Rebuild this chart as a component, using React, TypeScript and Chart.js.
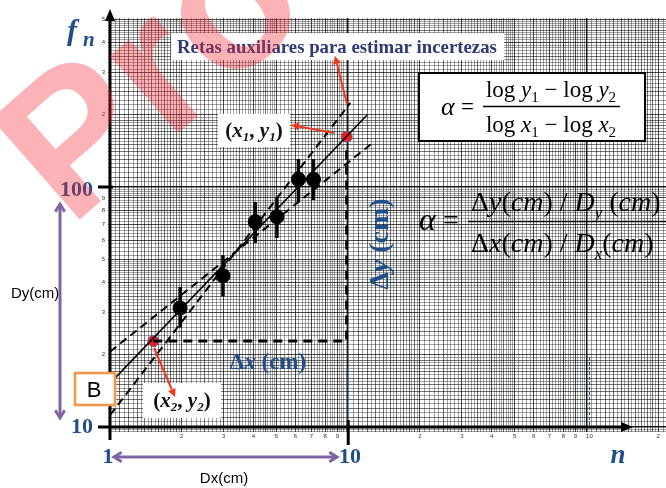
import React, { useEffect, useRef } from 'react';
import { Chart, registerables } from 'chart.js';

Chart.register(...registerables);

const SERIF = '"Liberation Serif", "Times New Roman", serif';
const SANS = '"Liberation Sans", Arial, sans-serif';
const BLUE = '#1f4e8a';
const RED = '#f2371c';
const PURPLE = '#8064a2';

// measured data (n, f_n) with error bar limits
const nValues = [1.97, 2.98, 4.07, 5.02, 6.18, 7.15];
const fValues = [31.3, 42.7, 71.6, 75.2, 107.6, 107.6];
const fLow = [26, 35, 58.5, 61.3, 86.6, 88.2];
const fHigh = [38.3, 52, 86.6, 90.9, 130.8, 130.8];

// reference points (x1,y1), (x2,y2)
const refX = [9.85, 1.52];
const refY = [162, 22.8];

// fitted line and auxiliary lines
const fitX = [1, 12.0];
const fitY = [15.2, 199.5];
const steepX = [1, 10.2];
const steepY = [11.2, 224];
const shallowX = [1, 12.6];
const shallowY = [20.6, 152];

// Δx / Δy construction path
const deltaX = [1.52, 9.85, 9.85];
const deltaY = [22.8, 22.8, 142];

// graph-paper axis digits
const axisDigits = [2, 3, 4, 5, 6, 7, 8, 9];
const xDecades = [1, 10, 100];
const yDecades = [10, 100];

const X_MIN = 0.981;
const X_MAX = 216.8;
const Y_MIN = 9.532;
const Y_MAX = 506;

function gridValues(min: number, max: number) {
  const out: number[] = [];
  for (let e = -1; e <= 3; e++) {
    const base = Math.pow(10, e);
    const push = (m: number) => {
      const v = +(m * base).toPrecision(6);
      if (v >= min && v <= max) out.push(v);
    };
    for (let i = 0; i < 20; i++) push(1 + i * 0.05);
    for (let i = 0; i < 30; i++) push(2 + i * 0.1);
    for (let i = 0; i < 25; i++) push(5 + i * 0.2);
  }
  return out;
}

function mantissa(v: number) {
  const e = Math.floor(Math.log10(v) + 1e-9);
  return v / Math.pow(10, e);
}
function gridColor(ctx: any) {
  const v = ctx.tick ? ctx.tick.value : 1;
  const m = mantissa(v);
  if (Math.abs(m - 1) < 1e-6) return 'rgba(0,0,0,0.9)';
  if (Math.abs(m - Math.round(m)) < 1e-6) return 'rgba(0,0,0,0.7)';
  if (m < 2 && Math.abs(m * 10 - Math.round(m * 10)) < 1e-6) return 'rgba(0,0,0,0.55)';
  if (m >= 2 && m < 5 && Math.abs(m * 2 - Math.round(m * 2)) < 1e-6) return 'rgba(0,0,0,0.55)';
  return 'rgba(0,0,0,0.36)';
}
function gridWidth(ctx: any) {
  const v = ctx.tick ? ctx.tick.value : 1;
  const m = mantissa(v);
  if (Math.abs(m - 1) < 1e-6) return 1.5;
  return 1;
}

type Seg = { t: string; f: string; dy?: number };
function drawRich(ctx: CanvasRenderingContext2D, segs: Seg[], x: number, y: number, align: 'left' | 'center') {
  let w = 0;
  for (const s of segs) {
    ctx.font = s.f;
    w += ctx.measureText(s.t).width;
  }
  let cx = align === 'center' ? x - w / 2 : x;
  ctx.textAlign = 'left';
  for (const s of segs) {
    ctx.font = s.f;
    ctx.fillText(s.t, cx, y + (s.dy || 0));
    cx += ctx.measureText(s.t).width;
  }
  return w;
}

function redArrow(ctx: CanvasRenderingContext2D, x0: number, y0: number, x1: number, y1: number) {
  const a = Math.atan2(y1 - y0, x1 - x0);
  const hl = 8;
  const hw = 4;
  const bx = x1 - hl * Math.cos(a);
  const by = y1 - hl * Math.sin(a);
  ctx.strokeStyle = RED;
  ctx.fillStyle = RED;
  ctx.lineWidth = 2;
  ctx.beginPath();
  ctx.moveTo(x0, y0);
  ctx.lineTo(bx, by);
  ctx.stroke();
  ctx.beginPath();
  ctx.moveTo(x1, y1);
  ctx.lineTo(bx + hw * Math.sin(a), by - hw * Math.cos(a));
  ctx.lineTo(bx - hw * Math.sin(a), by + hw * Math.cos(a));
  ctx.closePath();
  ctx.fill();
}

function openHead(ctx: CanvasRenderingContext2D, x: number, y: number, a: number) {
  const l = 9;
  ctx.beginPath();
  ctx.moveTo(x - l * Math.cos(a - 0.55), y - l * Math.sin(a - 0.55));
  ctx.lineTo(x, y);
  ctx.lineTo(x - l * Math.cos(a + 0.55), y - l * Math.sin(a + 0.55));
  ctx.stroke();
}

const errorBarPlugin = {
  id: 'errorBars',
  afterDatasetsDraw(chart: any) {
    const ctx: CanvasRenderingContext2D = chart.ctx;
    const xs = chart.scales.x;
    const ys = chart.scales.y;
    ctx.save();
    ctx.strokeStyle = '#000';
    ctx.lineWidth = 3.5;
    nValues.forEach((n, i) => {
      const px = xs.getPixelForValue(n);
      ctx.beginPath();
      ctx.moveTo(px, ys.getPixelForValue(fLow[i]));
      ctx.lineTo(px, ys.getPixelForValue(fHigh[i]));
      ctx.stroke();
    });
    ctx.restore();
  },
};

const overlayPlugin = {
  id: 'overlay',
  afterDraw(chart: any) {
    const ctx: CanvasRenderingContext2D = chart.ctx;
    const xs = chart.scales.x;
    const ys = chart.scales.y;
    const X = (v: number) => xs.getPixelForValue(v);
    const Y = (v: number) => ys.getPixelForValue(v);
    const ox = X(1);
    const oy = Y(10);
    ctx.save();

    // axes
    ctx.strokeStyle = '#000';
    ctx.fillStyle = '#000';
    ctx.lineWidth = 3;
    ctx.beginPath();
    ctx.moveTo(ox, oy + 13);
    ctx.lineTo(ox, 20);
    ctx.stroke();
    ctx.beginPath();
    ctx.moveTo(ox, 9);
    ctx.lineTo(ox - 5, 21);
    ctx.lineTo(ox + 5, 21);
    ctx.closePath();
    ctx.fill();
    ctx.beginPath();
    ctx.moveTo(ox - 12, oy);
    ctx.lineTo(623, oy);
    ctx.stroke();
    ctx.beginPath();
    ctx.moveTo(633, oy);
    ctx.lineTo(621, oy - 5);
    ctx.lineTo(621, oy + 5);
    ctx.closePath();
    ctx.fill();
    ctx.beginPath();
    ctx.moveTo(ox - 12, Y(100));
    ctx.lineTo(ox + 3, Y(100));
    ctx.stroke();
    ctx.beginPath();
    ctx.moveTo(X(10), oy - 7);
    ctx.lineTo(X(10), oy + 18);
    ctx.stroke();

    // thin blue guide lines
    ctx.strokeStyle = '#1f3f7f';
    ctx.lineWidth = 1;
    ctx.beginPath();
    ctx.moveTo(X(10) - 1, 368);
    ctx.lineTo(X(10) - 1, oy - 6);
    ctx.stroke();
    ctx.setLineDash([3, 2]);
    ctx.beginPath();
    ctx.moveTo(X(100) + 3, 357);
    ctx.lineTo(X(100) + 3, oy - 2);
    ctx.stroke();
    ctx.setLineDash([]);

    // tiny graph-paper digits
    ctx.fillStyle = '#333';
    ctx.font = `6px ${SANS}`;
    ctx.textBaseline = 'middle';
    ctx.textAlign = 'right';
    yDecades.forEach((b) => {
      axisDigits.forEach((d) => {
        const v = d * b;
        if (v <= Y_MAX) ctx.fillText(String(d), ox - 5, Y(v));
      });
    });
    ctx.textAlign = 'center';
    xDecades.forEach((b) => {
      axisDigits.forEach((d) => {
        const v = d * b;
        if (v <= X_MAX) ctx.fillText(String(d), X(v), oy + 9);
      });
    });
    ctx.fillText('10', X(100) + 3, oy + 9);

    // "Retas auxiliares" box
    ctx.fillStyle = '#fff';
    ctx.fillRect(171, 33, 333, 27);
    ctx.fillStyle = '#2f3a75';
    ctx.textBaseline = 'alphabetic';
    ctx.textAlign = 'left';
    ctx.font = `bold 18.8px ${SERIF}`;
    ctx.fillText('Retas auxiliares para estimar incertezas', 177, 53);

    // formula box 1
    ctx.fillStyle = '#fff';
    ctx.fillRect(419, 73, 226, 68);
    ctx.strokeStyle = '#000';
    ctx.lineWidth = 2;
    ctx.strokeRect(419, 73, 226, 68);
    ctx.fillStyle = '#000';
    const up23 = `23px ${SERIF}`;
    const it23 = `italic 23px ${SERIF}`;
    const sub = `15px ${SERIF}`;
    ctx.font = `italic 26px ${SERIF}`;
    ctx.fillText('α', 441, 115);
    ctx.font = up23;
    ctx.fillText('=', 461, 114);
    drawRich(ctx, [
      { t: 'log ', f: up23 }, { t: 'y', f: it23 }, { t: '1', f: sub, dy: 5 },
      { t: ' − log ', f: up23 }, { t: 'y', f: it23 }, { t: '2', f: sub, dy: 5 },
    ], 551, 97, 'center');
    ctx.lineWidth = 1.5;
    ctx.beginPath();
    ctx.moveTo(483, 106.5);
    ctx.lineTo(620, 106.5);
    ctx.stroke();
    drawRich(ctx, [
      { t: 'log ', f: up23 }, { t: 'x', f: it23 }, { t: '1', f: sub, dy: 5 },
      { t: ' − log ', f: up23 }, { t: 'x', f: it23 }, { t: '2', f: sub, dy: 5 },
    ], 551, 132, 'center');

    // formula 2
    const up28 = `28px ${SERIF}`;
    const it28 = `italic 28px ${SERIF}`;
    const sub28 = `italic 17px ${SERIF}`;
    ctx.font = `italic 32px ${SERIF}`;
    ctx.fillText('α', 419, 230);
    ctx.font = up28;
    ctx.fillText('=', 443, 229);
    drawRich(ctx, [
      { t: 'Δ', f: up28 }, { t: 'y', f: it28 }, { t: '(', f: up28 }, { t: 'cm', f: it28 }, { t: ') / ', f: up28 },
      { t: 'D', f: it28 }, { t: 'y', f: sub28, dy: 7 }, { t: ' (', f: up28 }, { t: 'cm', f: it28 }, { t: ')', f: up28 },
    ], 471, 211, 'left');
    ctx.lineWidth = 1.5;
    ctx.beginPath();
    ctx.moveTo(468, 221.5);
    ctx.lineTo(666, 221.5);
    ctx.stroke();
    drawRich(ctx, [
      { t: 'Δ', f: up28 }, { t: 'x', f: it28 }, { t: '(', f: up28 }, { t: 'cm', f: it28 }, { t: ') / ', f: up28 },
      { t: 'D', f: it28 }, { t: 'x', f: sub28, dy: 7 }, { t: '(', f: up28 }, { t: 'cm', f: it28 }, { t: ')', f: up28 },
    ], 471, 252, 'left');

    // point labels
    const b20 = `bold 21px ${SERIF}`;
    const bi20 = `bold italic 21px ${SERIF}`;
    const bs = `bold italic 13px ${SERIF}`;
    ctx.fillStyle = '#fff';
    ctx.fillRect(218, 114, 72, 33);
    ctx.fillRect(143, 383, 78, 35);
    ctx.fillStyle = '#111';
    drawRich(ctx, [
      { t: '(', f: b20 }, { t: 'x', f: bi20 }, { t: '1', f: bs, dy: 4 }, { t: ', ', f: b20 },
      { t: 'y', f: bi20 }, { t: '1', f: bs, dy: 4 }, { t: ')', f: b20 },
    ], 254, 137, 'center');
    drawRich(ctx, [
      { t: '(', f: b20 }, { t: 'x', f: bi20 }, { t: '2', f: bs, dy: 4 }, { t: ', ', f: b20 },
      { t: 'y', f: bi20 }, { t: '2', f: bs, dy: 4 }, { t: ')', f: b20 },
    ], 182, 407, 'center');

    // red arrows
    redArrow(ctx, 347, 104, 335, 56);
    redArrow(ctx, 334, 133, 291, 125);
    redArrow(ctx, 154, 348, 175, 397);

    // blue labels
    ctx.fillStyle = BLUE;
    ctx.font = `bold italic 30px ${SERIF}`;
    ctx.fillText('f', 67, 40);
    ctx.font = `bold italic 21px ${SERIF}`;
    ctx.fillText('n', 83, 46);
    drawRich(ctx, [
      { t: 'Δ', f: `bold 23px ${SERIF}` }, { t: 'x', f: `bold italic 23px ${SERIF}` }, { t: ' (cm)', f: `bold 23px ${SERIF}` },
    ], 268, 369, 'center');
    ctx.save();
    ctx.translate(388, 244);
    ctx.rotate(-Math.PI / 2);
    drawRich(ctx, [
      { t: 'Δ', f: `bold 28px ${SERIF}` }, { t: 'y', f: `bold italic 28px ${SERIF}` }, { t: ' (cm)', f: `bold 28px ${SERIF}` },
    ], 0, 0, 'center');
    ctx.restore();
    ctx.font = `bold 22px ${SERIF}`;
    ctx.textAlign = 'right';
    ctx.fillText('100', 93, 196);
    ctx.fillText('10', 93, 433);
    ctx.textAlign = 'center';
    ctx.fillText('1', 108, 463);
    ctx.fillText('10', 350, 463);
    ctx.font = `bold italic 27px ${SERIF}`;
    ctx.fillText('n', 618, 463);

    // B box
    ctx.fillStyle = '#fff';
    ctx.fillRect(75, 373, 40, 32);
    ctx.strokeStyle = '#f79646';
    ctx.lineWidth = 2.5;
    ctx.strokeRect(75, 373, 40, 32);
    ctx.fillStyle = '#000';
    ctx.font = `22px ${SANS}`;
    ctx.textBaseline = 'middle';
    ctx.fillText('B', 94, 391);

    // purple double arrows
    ctx.strokeStyle = PURPLE;
    ctx.lineWidth = 3;
    ctx.beginPath();
    ctx.moveTo(60, 206);
    ctx.lineTo(60, 416);
    ctx.stroke();
    openHead(ctx, 60, 204, -Math.PI / 2);
    openHead(ctx, 60, 418, Math.PI / 2);
    ctx.beginPath();
    ctx.moveTo(116, 457);
    ctx.lineTo(335, 457);
    ctx.stroke();
    openHead(ctx, 114, 457, Math.PI);
    openHead(ctx, 337, 457, 0);

    ctx.fillStyle = '#000';
    ctx.font = `15px ${SANS}`;
    ctx.textAlign = 'left';
    ctx.fillText('Dy(cm)', 11, 294);
    ctx.textAlign = 'center';
    ctx.fillText('Dx(cm)', 224, 479);

    // watermark
    ctx.save();
    ctx.translate(70, 228);
    ctx.rotate(-0.72);
    ctx.fillStyle = 'rgba(245,45,55,0.36)';
    ctx.font = `bold 195px ${SANS}`;
    ctx.textAlign = 'left';
    ctx.textBaseline = 'alphabetic';
    ctx.fillText('Pro', 0, 0);
    ctx.restore();

    ctx.restore();
  },
};

const pts = (xs: number[], ys: number[]) => xs.map((x, i) => ({ x, y: ys[i] }));

export default function App() {
  const ref = useRef<HTMLCanvasElement | null>(null);
  useEffect(() => {
    if (!ref.current) return;
    const logScale = (min: number, max: number) => ({
      type: 'logarithmic' as const,
      min,
      max,
      bounds: 'data' as const,
      ticks: { display: false },
      grid: { drawTicks: false, color: gridColor, lineWidth: gridWidth },
      border: { display: false },
      afterBuildTicks: (s: any) => {
        s.ticks = gridValues(min, max).map((v) => ({ value: v }));
      },
    });
    const chart = new Chart(ref.current, {
      type: 'scatter',
      data: {
        datasets: [
          { data: pts(fitX, fitY), showLine: true, borderColor: '#000', borderWidth: 1.6, pointRadius: 0 },
          { data: pts(steepX, steepY), showLine: true, borderColor: '#000', borderWidth: 2, borderDash: [8, 5], pointRadius: 0 },
          { data: pts(shallowX, shallowY), showLine: true, borderColor: '#000', borderWidth: 2, borderDash: [8, 5], pointRadius: 0 },
          { data: pts(deltaX, deltaY), showLine: true, borderColor: '#000', borderWidth: 3, borderDash: [9, 6], pointRadius: 0 },
          { data: pts(nValues, fValues), backgroundColor: '#000', borderWidth: 0, pointRadius: 7.5 },
          { data: pts(refX, refY), backgroundColor: '#f21a1a', borderColor: '#4a5fb0', borderWidth: 1, pointRadius: 5.5 },
        ],
      },
      options: {
        animation: false,
        responsive: false,
        maintainAspectRatio: false,
        layout: { padding: { left: 108, top: 18, right: 0, bottom: 56 } },
        plugins: { legend: { display: false }, tooltip: { enabled: false } },
        scales: {
          x: logScale(X_MIN, X_MAX) as any,
          y: logScale(Y_MIN, Y_MAX) as any,
        },
      },
      plugins: [errorBarPlugin, overlayPlugin],
    });
    return () => chart.destroy();
  }, []);
  return (
    <div style={{ position: 'fixed', left: 0, top: 0, width: 666, height: 488, overflow: 'hidden', background: '#fff' }}>
      <canvas ref={ref} width={674} height={488} style={{ display: 'block' }} />
    </div>
  );
}
